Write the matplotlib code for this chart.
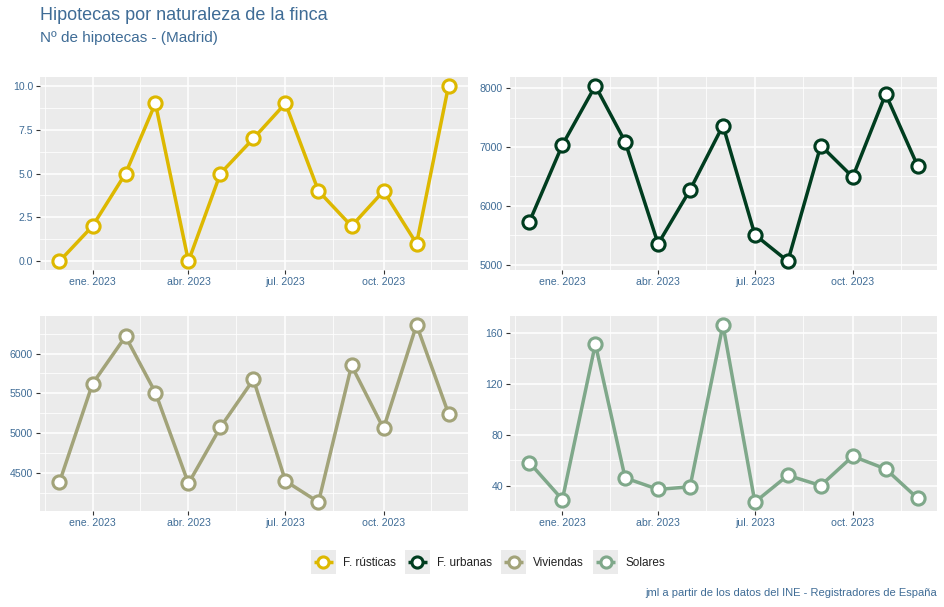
import numpy as np
import pandas as pd
import matplotlib
matplotlib.use("Agg")
import matplotlib.pyplot as plt
import matplotlib.dates as mdates
from matplotlib.lines import Line2D
from matplotlib.patches import Rectangle
from matplotlib.legend_handler import HandlerBase

plt.rcParams['font.family'] = ['Liberation Sans', 'DejaVu Sans']

# datos mensuales
meses = pd.to_datetime(["2022-12-01", "2023-01-01", "2023-02-01", "2023-03-01", "2023-04-01",
                        "2023-05-01", "2023-06-01", "2023-07-01", "2023-08-01", "2023-09-01",
                        "2023-10-01", "2023-11-01", "2023-12-01"])
rusticas = [0, 2, 5, 9, 0, 5, 7, 9, 4, 2, 4, 1, 10]
urbanas = [5730, 7035, 8040, 7090, 5355, 6270, 7365, 5510, 5060, 7025, 6490, 7900, 6680]
viviendas = [4385, 5620, 6215, 5510, 4370, 5075, 5675, 4400, 4135, 5850, 5060, 6360, 5245]
solares = [58, 29, 151, 46, 37, 39, 166, 27, 48, 40, 63, 53, 30]

series = ["F. rústicas", "F. urbanas", "Viviendas", "Solares"]
colores = ["#DDB800", "#003D1F", "#A2A379", "#7FA88A"]
ticks_y = [[0, 2.5, 5, 7.5, 10], [5000, 6000, 7000, 8000],
           [4500, 5000, 5500, 6000], [40, 80, 120, 160]]
etiquetas_y = [["0.0", "2.5", "5.0", "7.5", "10.0"], ["5000", "6000", "7000", "8000"],
               ["4500", "5000", "5500", "6000"], ["40", "80", "120", "160"]]
ticks_x = pd.to_datetime(["2023-01-01", "2023-04-01", "2023-07-01", "2023-10-01"])
etiquetas_x = ["ene. 2023", "abr. 2023", "jul. 2023", "oct. 2023"]

azul = "#3F6C96"
W, H = 944, 607
fig = plt.figure(figsize=(W / 100, H / 100), dpi=100)

# posiciones de los paneles en pixeles (x0, y0, x1, y1) desde arriba-izquierda
paneles = [(40, 77, 468, 270), (510, 77, 937, 270), (40, 316, 468, 511), (510, 316, 937, 511)]

datos = [rusticas, urbanas, viviendas, solares]
xnum = mdates.date2num(meses)
xmin, xmax = xnum[0], xnum[-1]
pad = (xmax - xmin) * 0.05
majx = mdates.date2num(ticks_x)
paso = majx[1] - majx[0]
minx = [m + paso / 2 for m in np.concatenate([[majx[0] - paso], majx])]

for i, (x0, y0, x1, y1) in enumerate(paneles):
    ax = fig.add_axes([x0 / W, 1 - y1 / H, (x1 - x0) / W, (y1 - y0) / H])
    ax.set_facecolor("#EBEBEB")
    for s in ax.spines.values():
        s.set_visible(False)
    vals = datos[i]
    ymin, ymax = min(vals), max(vals)
    ypad = (ymax - ymin) * 0.05
    ax.set_xticks(majx)
    ax.set_xticklabels(etiquetas_x)
    ax.set_xticks(minx, minor=True)
    yt = ticks_y[i]
    ax.set_yticks(yt)
    ax.set_yticklabels(etiquetas_y[i])
    d = yt[1] - yt[0]
    ym = [yt[0] - d / 2] + [(a + b) / 2 for a, b in zip(yt[:-1], yt[1:])] + [yt[-1] + d / 2]
    ax.set_yticks(ym, minor=True)
    ax.grid(which="major", color="white", linewidth=1.1)
    ax.grid(which="minor", color="white", linewidth=0.55)
    ax.set_axisbelow(True)
    ax.tick_params(which="major", length=3, width=0.8, color="#333333", labelsize=7.6,
                   labelcolor=azul, pad=2)
    ax.tick_params(which="minor", length=0)
    ax.plot(meses, vals, color=colores[i], linewidth=2.5, marker="o", markersize=9.5,
            markerfacecolor="white", markeredgecolor=colores[i], markeredgewidth=2.2, zorder=3)
    ax.set_ylim(ymin - ypad, ymax + ypad)
    ax.set_xlim(xmin - pad, xmax + pad)

fig.text(40 / W, 1 - 15 / H, "Hipotecas por naturaleza de la finca", fontsize=13,
         color=azul, va="center", ha="left")
fig.text(40 / W, 1 - 38 / H, "Nº de hipotecas - (Madrid)", fontsize=11,
         color=azul, va="center", ha="left")
fig.text(937 / W, 1 - 593 / H, "jml a partir de los datos del INE - Registradores de España",
         fontsize=8, color=azul, va="center", ha="right")


class ClaveGris(HandlerBase):
    # cuadro gris con linea y punto, como las claves de ggplot
    def create_artists(self, legend, orig, xd, yd, width, height, fontsize, trans):
        lado = width
        x0 = -xd
        y0 = -yd + (height - lado) / 2
        fondo = Rectangle((x0, y0), lado, lado, facecolor="#EBEBEB", edgecolor="none",
                          transform=trans)
        cy = y0 + lado / 2
        linea = Line2D([x0 + 2, x0 + lado - 2], [cy, cy], color=orig.get_color(),
                       linewidth=2.5, solid_capstyle="butt", transform=trans)
        punto = Line2D([x0 + lado / 2], [cy], marker="o", markersize=8,
                       markerfacecolor="white", markeredgecolor=orig.get_color(),
                       markeredgewidth=2.2, linestyle="none", transform=trans)
        return [fondo, linea, punto]


handles = [Line2D([], [], color=c) for c in colores]
fig.legend(handles, series, handler_map={Line2D: ClaveGris()},
           loc="center", bbox_to_anchor=(488 / W, 1 - 562 / H), ncol=4, frameon=False,
           fontsize=8.5, handlelength=2.1, handleheight=2.1, columnspacing=0.8,
           handletextpad=0.6, labelcolor="#222222")

fig.savefig("out.png", dpi=100)
